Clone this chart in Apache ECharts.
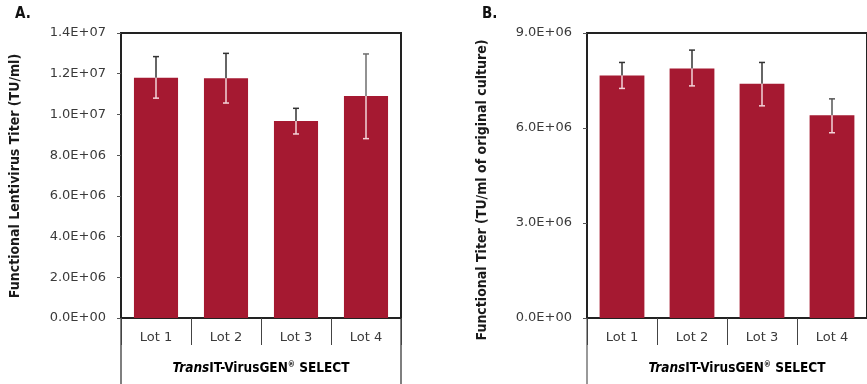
<!DOCTYPE html>
<html><head><meta charset="utf-8">
<script src="https://cdn.jsdelivr.net/npm/echarts@6/dist/echarts.min.js"></script>
<style>html,body{margin:0;padding:0;background:#fff}#c{width:867px;height:384px}</style>
</head><body><div id="c"></div>
<script>
const categories = ['Lot 1', 'Lot 2', 'Lot 3', 'Lot 4'];
// Panel A: Functional lentivirus titer (TU/ml)
const titerA = [11800000, 11780000, 9680000, 10900000];
const errLowA = [10800000, 10560000, 9040000, 8810000];
const errHighA = [12840000, 13000000, 10300000, 12970000];
// Panel B: Functional titer (TU/ml of original culture)
const titerB = [7660000, 7880000, 7400000, 6400000];
const errLowB = [7250000, 7330000, 6700000, 5850000];
const errHighB = [8070000, 8460000, 8070000, 6920000];
const ticksA = { min: 0, max: 14000000, interval: 2000000 };
const ticksB = { min: 0, max: 9000000, interval: 3000000 };

const BAR = '#a51931';
const numFont = 'DejaVu Sans';
const boldFont = '"Liberation Sans Narrow", "DejaVu Sans Condensed", "Liberation Sans", sans-serif';

const gA = { left: 121, top: 33, width: 280, height: 285 };
const gB = { left: 587, top: 33, width: 282, height: 285 };

function fmt(v) {
  if (v === 0) return '0.0E+00';
  const e = Math.floor(Math.log10(v));
  const m = v / Math.pow(10, e);
  return m.toFixed(1) + 'E+' + (e < 10 ? '0' + e : e);
}

function errSeries(xi, yi, lows, highs, vals, darkColors) {
  return {
    type: 'custom', xAxisIndex: xi, yAxisIndex: yi, z: 5,
    data: vals.map((v, i) => [i, v, lows[i], highs[i]]),
    renderItem: function (params, api) {
      const x = api.coord([api.value(0), 0])[0];
      const top = api.coord([api.value(0), api.value(3)])[1];
      const mid = api.coord([api.value(0), api.value(1)])[1];
      const bot = api.coord([api.value(0), api.value(2)])[1];
      const dark = darkColors[params.dataIndex];
      const light = '#f3d3d8';
      const w = 3;
      return { type: 'group', children: [
        { type: 'line', shape: { x1: x, y1: top, x2: x, y2: mid }, style: { stroke: dark, lineWidth: 1.5 } },
        { type: 'line', shape: { x1: x, y1: mid, x2: x, y2: bot }, style: { stroke: light, lineWidth: 1.5 } },
        { type: 'line', shape: { x1: x - w, y1: top, x2: x + w, y2: top }, style: { stroke: dark, lineWidth: 1.5 } },
        { type: 'line', shape: { x1: x - w, y1: bot, x2: x + w, y2: bot }, style: { stroke: light, lineWidth: 1.5 } }
      ]};
    }
  };
}

function xAxisCfg(gi) {
  return {
    type: 'category', gridIndex: gi, data: categories,
    axisLine: { lineStyle: { color: '#222', width: 2 } },
    axisTick: { show: true, length: 27, lineStyle: { color: '#444', width: 1 } },
    axisLabel: { margin: 13, color: '#3a3a3a', fontFamily: numFont, fontSize: 13 }
  };
}
function yAxisCfg(gi, t) {
  return {
    type: 'value', gridIndex: gi, min: t.min, max: t.max, interval: t.interval,
    splitLine: { show: false },
    axisLine: { show: true, lineStyle: { color: '#222', width: 2 } },
    axisTick: { show: true, length: 4, lineStyle: { color: '#555' } },
    axisLabel: { margin: 15, color: '#3a3a3a', fontFamily: numFont, fontSize: 13, formatter: fmt }
  };
}

const xRich = {
  i: { fontFamily: boldFont, fontWeight: 'bold', fontStyle: 'italic', fontSize: 13.5, color: '#1a1a1a' },
  b: { fontFamily: boldFont, fontWeight: 'bold', fontSize: 13.5, color: '#1a1a1a' },
  s: { fontFamily: boldFont, fontWeight: 'bold', fontSize: 8, color: '#1a1a1a', verticalAlign: 'top', padding: [0, 0, 6, 0] }
};
const xName = '{i|Trans}{b|IT-VirusGEN}{s|®}{b| SELECT}';

const chart = echarts.init(document.getElementById('c'), null, { renderer: 'canvas' });
chart.setOption({
  animation: false,
  backgroundColor: '#fff',
  grid: [
    Object.assign({ show: true, borderColor: '#222', borderWidth: 2, backgroundColor: 'transparent' }, gA),
    Object.assign({ show: true, borderColor: '#222', borderWidth: 2, backgroundColor: 'transparent' }, gB)
  ],
  xAxis: [xAxisCfg(0), xAxisCfg(1)],
  yAxis: [yAxisCfg(0, ticksA), yAxisCfg(1, ticksB)],
  series: [
    { type: 'bar', xAxisIndex: 0, yAxisIndex: 0, data: titerA, barWidth: '63%', itemStyle: { color: BAR } },
    errSeries(0, 0, errLowA, errHighA, titerA, ['#333', '#333', '#333', '#6e6e6e']),
    { type: 'bar', xAxisIndex: 1, yAxisIndex: 1, data: titerB, barWidth: '64%', itemStyle: { color: BAR } },
    errSeries(1, 1, errLowB, errHighB, titerB, ['#333', '#333', '#333', '#555'])
  ],
  graphic: [
    { type: 'text', left: 15, top: 7, style: { text: 'A.', font: 'bold 15px ' + boldFont, fill: '#111' } },
    { type: 'text', left: 482, top: 7, style: { text: 'B.', font: 'bold 15px ' + boldFont, fill: '#111' } },
    { type: 'text', x: 15, y: 176, rotation: Math.PI / 2,
      style: { text: 'Functional Lentivirus Titer (TU/ml)', font: 'bold 14px ' + boldFont, fill: '#1a1a1a', align: 'center', verticalAlign: 'middle' } },
    { type: 'text', x: 482, y: 190, rotation: Math.PI / 2,
      style: { text: 'Functional Titer (TU/ml of original culture)', font: 'bold 14px ' + boldFont, fill: '#1a1a1a', align: 'center', verticalAlign: 'middle' } },
    { type: 'text', x: gA.left + gA.width / 2, y: 368,
      style: { text: xName, rich: xRich, align: 'center', verticalAlign: 'middle' } },
    { type: 'text', x: 737, y: 368,
      style: { text: xName, rich: xRich, align: 'center', verticalAlign: 'middle' } },
    { type: 'line', shape: { x1: gA.left, y1: gA.top + gA.height, x2: gA.left, y2: 384 }, style: { stroke: '#555', lineWidth: 1.5 } },
    { type: 'line', shape: { x1: gA.left + gA.width, y1: gA.top + gA.height, x2: gA.left + gA.width, y2: 384 }, style: { stroke: '#555', lineWidth: 1.5 } },
    { type: 'line', shape: { x1: gB.left, y1: gB.top + gB.height, x2: gB.left, y2: 384 }, style: { stroke: '#777', lineWidth: 1.5 } }
  ]
});
</script></body></html>
